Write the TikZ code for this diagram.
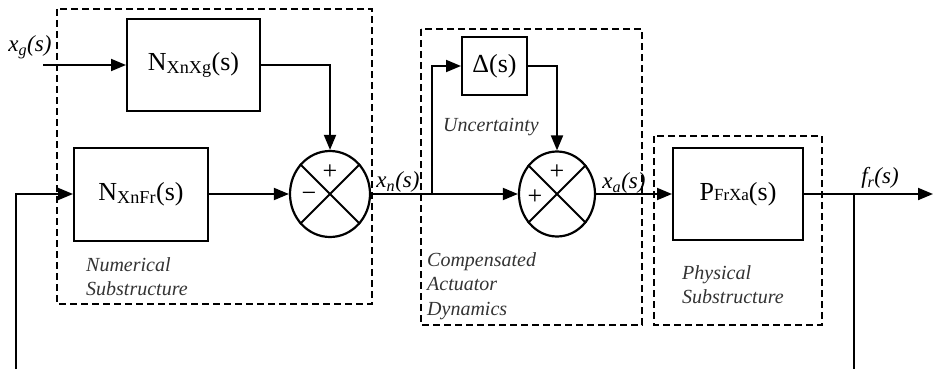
\documentclass[tikz,border=0pt]{standalone}
\usepackage{fontspec}
\setmainfont{Liberation Serif}[ItalicFont={Liberation Serif Italic},BoldFont={Liberation Serif Bold}]
\usetikzlibrary{arrows.meta,shapes.geometric}
\begin{document}
\begin{tikzpicture}[x=1pt,y=-1pt,
  blk/.style={draw,line width=2pt,inner sep=0pt,font=\fontsize{26}{30}\selectfont},
  sumnode/.style={draw,ellipse,line width=2.2pt,minimum width=80pt,minimum height=86pt,inner sep=0pt},
  wire/.style={line width=1.9pt},
  arr/.style={wire,-{Triangle[length=15pt,width=12pt]}},
  frame/.style={draw,line width=1.1pt,dash pattern=on 7pt off 4pt},
  lab/.style={font=\fontsize{20}{24.5}\selectfont\itshape,text=black!80,align=left,anchor=north west,inner sep=0pt},
  sig/.style={font=\fontsize{23}{26}\selectfont\itshape,inner sep=0pt},
  sgn/.style={font=\fontsize{26}{28}\selectfont,inner sep=0pt}]
\useasboundingbox (0,0) rectangle (933,369);
% frames
\draw[frame] (57,9) rectangle (372,304);
\draw[frame] (421,29) rectangle (642,325);
\draw[frame] (654,136) rectangle (822,325);
% blocks
\node[blk,minimum width=133pt,minimum height=92pt] (nxg) at (193.5,65) {N\textsubscript{XnXg}(s)};
\node[blk,minimum width=134pt,minimum height=93pt] (nfr) at (141,194) {N\textsubscript{XnFr}(s)};
\node[sumnode] (s1) at (330,194) {};
\node[blk,minimum width=65pt,minimum height=57pt] (dl) at (494.5,66) {Δ(s)};
\node[sumnode,minimum width=76pt,minimum height=85pt] (s2) at (557,194) {};
\node[blk,minimum width=130pt,minimum height=92pt] (pfr) at (738,194) {P{\fontsize{17}{20}\selectfont FrXa}(s)};
% crosses and signs
\draw[wire] (s1.45) -- (s1.225) (s1.135) -- (s1.315);
\draw[wire] (s2.45) -- (s2.225) (s2.135) -- (s2.315);
\node[sgn] (p1) at (330,172) {+};
\node[sgn] (m1) at (309,197) {−};
\node[sgn] (p2) at (557,172) {+};
\node[sgn] (p3) at (535,197) {+};
% coordinates
\coordinate (xgin) at (43,65);
\coordinate (fbL) at (16,369);
\coordinate (fbR) at (854,369);
\coordinate (outR) at (933,194);
\coordinate (br1) at (432,194);
\coordinate (br2) at (854,194);
% connectors
\draw[arr] (xgin) -- (nxg.west);
\draw[arr] (nxg.east) -| (s1.north);
\draw[arr] (fbL) |- (nfr.west);
\draw[arr] (nfr.east) -- (s1.west);
\draw[arr] (s1.east) -- (s2.west);
\draw[arr] (br1) |- (dl.west);
\draw[arr] (dl.east) -| (s2.north);
\draw[arr] (s2.east) -- (pfr.west);
\draw[arr] (pfr.east) -- (outR);
\draw[wire] (br2) -- (fbR);
% signal labels
\node[sig] (lxg) at (30,47) {x\textsubscript{g}(s)};
\node[sig] (lxn) at (398,182) {x\textsubscript{n}(s)};
\node[sig] (lxa) at (624,183) {x\textsubscript{a}(s)};
\node[sig] (lfr) at (880,178) {f\textsubscript{r}(s)};
% group labels
\node[lab] (tnum) at (86,257) {Numerical\\Substructure};
\node[lab] (tunc) at (443,118) {Uncertainty};
\node[lab] (tcad) at (427,252) {Compensated\\Actuator\\Dynamics};
\node[lab] (tphy) at (682,265) {Physical\\Substructure};
\end{tikzpicture}
\end{document}
